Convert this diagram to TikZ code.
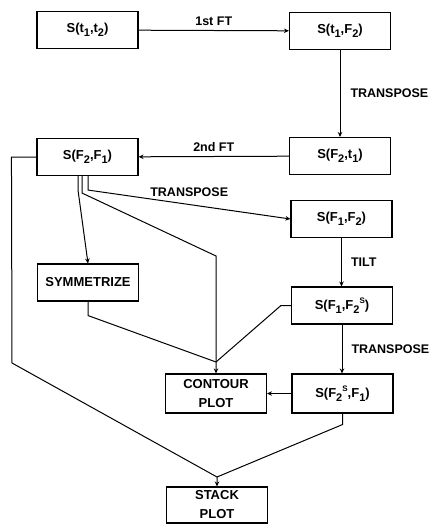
\documentclass[tikz,border=0pt]{standalone}
\usepackage{fontspec}
\setmainfont{Liberation Sans}
\usetikzlibrary{arrows.meta,positioning,calc}
\newcommand{\ix}[1]{\raisebox{-4pt}{\fontsize{11}{11}\selectfont #1}}
\newcommand{\ixs}[2]{\raisebox{-4pt}{\fontsize{11}{11}\selectfont #1}\raisebox{6pt}{\fontsize{8}{8}\selectfont #2}}
\tikzset{
  bloque/.style={draw,line width=1.1pt,font=\bfseries\fontsize{13}{19}\selectfont,align=center,inner sep=0pt,minimum width=101pt,minimum height=37pt},
  linea/.style={line width=1pt},
  flecha/.style={linea,-{Stealth[length=5pt,width=4.5pt]}},
  rotulo/.style={font=\bfseries\fontsize{12.5}{14}\selectfont,inner sep=1pt},
}
\begin{document}
\begin{tikzpicture}[x=1pt,y=-1pt]
  \useasboundingbox (0,0) rectangle (435,524);
  % espectros
  \node[bloque] (tt) at (87.5,30) {S(t\ix{1},t\ix{2})};
  \node[bloque] (tF) at (340,31) {S(t\ix{1},F\ix{2})};
  \node[bloque] (Ft) at (340,156) {S(F\ix{2},t\ix{1})};
  \node[bloque] (FF) at (87.5,157) {S(F\ix{2},F\ix{1})};
  \node[bloque] (fa) at (341.5,219) {S(F\ix{1},F\ix{2})};
  \node[bloque] (sym) at (88,282.5) {SYMMETRIZE};
  \node[bloque] (fs) at (342,305.5) {S(F\ix{1},F\ixs{2}{S})};
  \node[bloque,minimum height=39pt] (cont) at (216,393.5) {CONTOUR\\PLOT};
  \node[bloque,minimum height=39pt] (sf) at (342.5,393.5) {S(F\ixs{2}{S},F\ix{1})};
  \node[bloque,minimum height=36pt] (stack) at (217,505) {STACK\\PLOT};
  \coordinate (jcont) at (cont.north |- 0,362);
  \coordinate (jstack) at (stack.north |- 0,477);
  % transformadas
  \draw[flecha] (tt) -- (tF) node[midway,above=3pt,rotulo] {1st FT};
  \draw[flecha] (tF) -- (Ft) node[midway,right=9pt,rotulo] {TRANSPOSE};
  \draw[flecha] (Ft) -- (FF) node[midway,above=3pt,rotulo] {2nd FT};
  \draw[flecha] ([xshift=0.5pt]FF.south) -- ++(0,14) -- (fa.west) node[midway,above=6pt,rotulo] {TRANSPOSE};
  \draw[flecha] (fa.south) -- (fa.south |- fs.north) node[midway,right=8pt,rotulo] {TILT};
  \draw[flecha] (fs.south) -- (fs.south |- sf.north) node[midway,right=8pt,rotulo] {TRANSPOSE};
  \draw[flecha] ([xshift=-9.5pt]FF.south) -- ++(0,14) -- (sym.north);
  % hacia los graficos
  \draw[flecha] ([xshift=-5.5pt]FF.south) -- ++(0,17) -- ($(jcont)+(0,-106)$) -- (cont.north);
  \draw[linea] (sym.south) -- ++(0,14) -- (jcont);
  \draw[linea] (fs.west) -- ++(-10,0) -- (jcont);
  \draw[flecha] (sf.west) -- (cont.east);
  \draw[flecha] (FF.west) -- ++(-25,0) -- (12,363) -- (jstack) -- (stack.north);
  \draw[linea] (sf.south) -- ++(0,11) -- (jstack);
\end{tikzpicture}
\end{document}
